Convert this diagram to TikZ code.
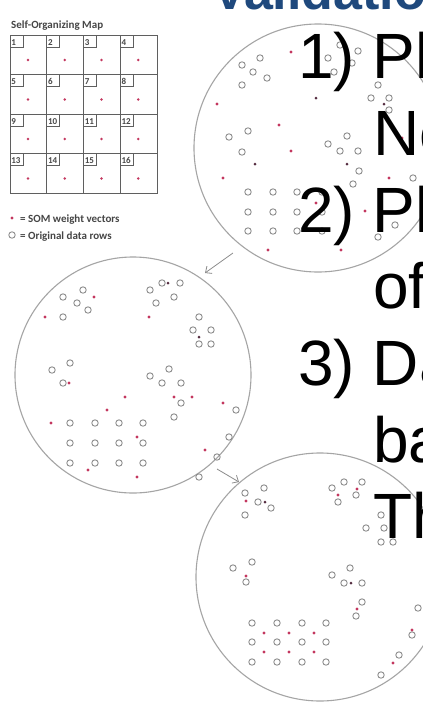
\documentclass[tikz,border=0pt]{standalone}
\usepackage{fontspec}
\setmainfont{Liberation Sans}
\newfontfamily\smallfont{Carlito}
\usetikzlibrary{arrows.meta}
\definecolor{titleblue}{RGB}{31,73,125}
\definecolor{ringgray}{RGB}{165,165,165}
\definecolor{ptgray}{RGB}{140,140,140}
\definecolor{somred}{RGB}{195,55,95}
\definecolor{somdark}{RGB}{85,45,65}
\definecolor{gridgray}{RGB}{95,95,95}
\definecolor{labelgray}{RGB}{70,70,70}
\tikzset{
  ring/.style={circle, draw=ringgray, line width=1.1pt, inner sep=0pt},
  datapt/.style={draw=ptgray, line width=0.9pt},
  flowarrow/.style={draw=ptgray, line width=0.8pt, -{Straight Barb[length=5pt,width=9pt]}},
  bigtext/.style={anchor=base west, inner sep=0pt, font=\fontsize{64}{64}\selectfont, text=black},
  smalltext/.style={anchor=base west, inner sep=0pt, font=\smallfont\bfseries\fontsize{11}{11}\selectfont, text=labelgray},
  cellnum/.style={anchor=base west, inner sep=0pt, font=\smallfont\bfseries\fontsize{9}{9}\selectfont, text=labelgray},
}
\newcommand{\gpt}[1]{\foreach \p in {#1} \draw[datapt] \p circle (3.2pt);}
\newcommand{\rpt}[1]{\foreach \p in {#1} \fill[somred] \p circle (1.6pt);}
\newcommand{\dpt}[1]{\foreach \p in {#1} \fill[somdark] \p circle (1.5pt);}
\begin{document}
\begin{tikzpicture}[x=1pt, y=-1pt]
\useasboundingbox (0,0) rectangle (423,705);
\clip (0,0) rectangle (423,705);
\fill[white] (0,0) rectangle (423,705);

% ---- title (cut off at top) ----
\node[anchor=base west, inner sep=0pt, font=\bfseries\fontsize{52}{52}\selectfont, text=titleblue] (title) at (212,9) {Validation};

% ---- Self-Organizing Map grid ----
\node[smalltext] (somtitle) at (11,28) {Self-Organizing Map};
\foreach \r in {0,...,3} {
  \foreach \c in {0,...,3} {
    \pgfmathtruncatemacro{\n}{\r*4+\c+1}
    \pgfmathsetmacro{\xx}{10+\c*36.75}
    \pgfmathsetmacro{\yy}{35+\r*39.5}
    \draw[gridgray, line width=0.8pt] (\xx,\yy) rectangle ++(36.75,39.5);
    \draw[gridgray, line width=0.6pt] (\xx,\yy+12) -- ++(13,0) -- ++(0,-12);
    \node[cellnum] (num\n) at (\xx+1.2,\yy+10) {\n};
    \fill[somred] (\xx+18,\yy+25) circle (1.4pt);
  }
}
\fill[somred] (12,218) circle (1.6pt);
\node[smalltext] (leg1) at (20,222) {= SOM weight vectors};
\draw[datapt] (12,235) circle (3.2pt);
\node[smalltext] (leg2) at (20,239) {= Original data rows};

% ---- the three rings ----
\node[ring, minimum size=248pt] (c1) at (318,148) {};
\node[ring, minimum size=236pt] (c2) at (133,375) {};
\node[ring, minimum size=248pt] (c3) at (320,577) {};

% ---- ring 1 points ----
\gpt{(242,65),(260,58),(253,72),(267,78),(242,85),
     (328,58),(340,45),(352,63),(334,72),(358,51),
     (378,85),(371,98),(389,98),(389,110),
     (229,137),(248,131),(242,152),
     (347,136),(328,144),(340,151),(358,151),(359,171),(353,184),
     (413,178),(378,237),(395,225),
     (248,192),(273,192),(297,192),(322,192),
     (248,212),(273,212),(297,212),(322,212),
     (248,231),(273,231),(297,231),(322,231)}
\rpt{(291,52),(217,104),(279,125),(291,151),(223,178),(389,178),(316,203),(365,211),(268,250),(341,250),(402,138)}
\dpt{(316,98),(255,164),(347,164),(384,104)}

% ---- ring 2 points ----
\gpt{(63,297),(83,290),(77,303),(88,310),(63,317),
     (150,290),(162,283),(180,283),(156,303),(174,297),
     (199,317),(193,330),(211,330),(199,344),(211,344),
     (52,370),(70,363),(63,383),
     (150,376),(169,369),(162,383),(181,383),(181,403),(174,417),
     (236,410),(229,437),(217,457),(199,477),
     (70,423),(95,423),(119,423),(143,423),
     (70,443),(95,443),(119,443),(143,443),
     (70,463),(95,463),(119,463),(143,463)}
\rpt{(94,297),(45,317),(149,317),(69,383),(174,397),(192,397),(125,397),(107,410),(223,403),(205,450),(51,423),(137,437),(88,470),(137,477)}
\dpt{(168,283),(199,337)}

% ---- ring 3 points ----
\gpt{(245,493),(264,488),(258,502),(271,508),(245,515),
     (332,488),(344,482),(362,482),(338,502),(356,495),
     (381,515),(366,528),(384,528),(381,542),(393,542),
     (233,568),(252,562),(246,582),
     (350,568),(332,575),(344,583),(362,583),
     (362,602),(356,616),
     (418,608),(412,635),(399,655),(381,675),
     (252,623),(277,623),(302,623),(326,623),
     (252,642),(277,642),(302,642),(326,642),
     (252,662),(277,662),(302,662),(326,662)}
\rpt{(246,501),(338,495),(357,489),(246,576),(357,609),(412,630),(393,663),(264,633),(289,633),(314,633),(264,652),(289,652),(314,652)}
\dpt{(265,502),(351,583)}

% ---- arrows between rings ----
\coordinate (a1s) at (233,253);
\coordinate (a1e) at (205,273);
\coordinate (a2s) at (217,469);
\coordinate (a2e) at (239,482);
\draw[flowarrow] (a1s) -- (a1e);
\draw[flowarrow] (a2s) -- (a2e);

% ---- big list text (cut off at right) ----
\node[bigtext] (l1) at (298,78) {1)\ Pl};
\node[bigtext] (l2) at (373,155) {No};
\node[bigtext] (l3) at (298,232) {2)\ Pl};
\node[bigtext] (l4) at (373,308) {of};
\node[bigtext] (l5) at (298,385) {3)\ Da};
\node[bigtext] (l6) at (373,462) {ba};
\node[bigtext] (l7) at (373,538) {Th};
\end{tikzpicture}
\end{document}
